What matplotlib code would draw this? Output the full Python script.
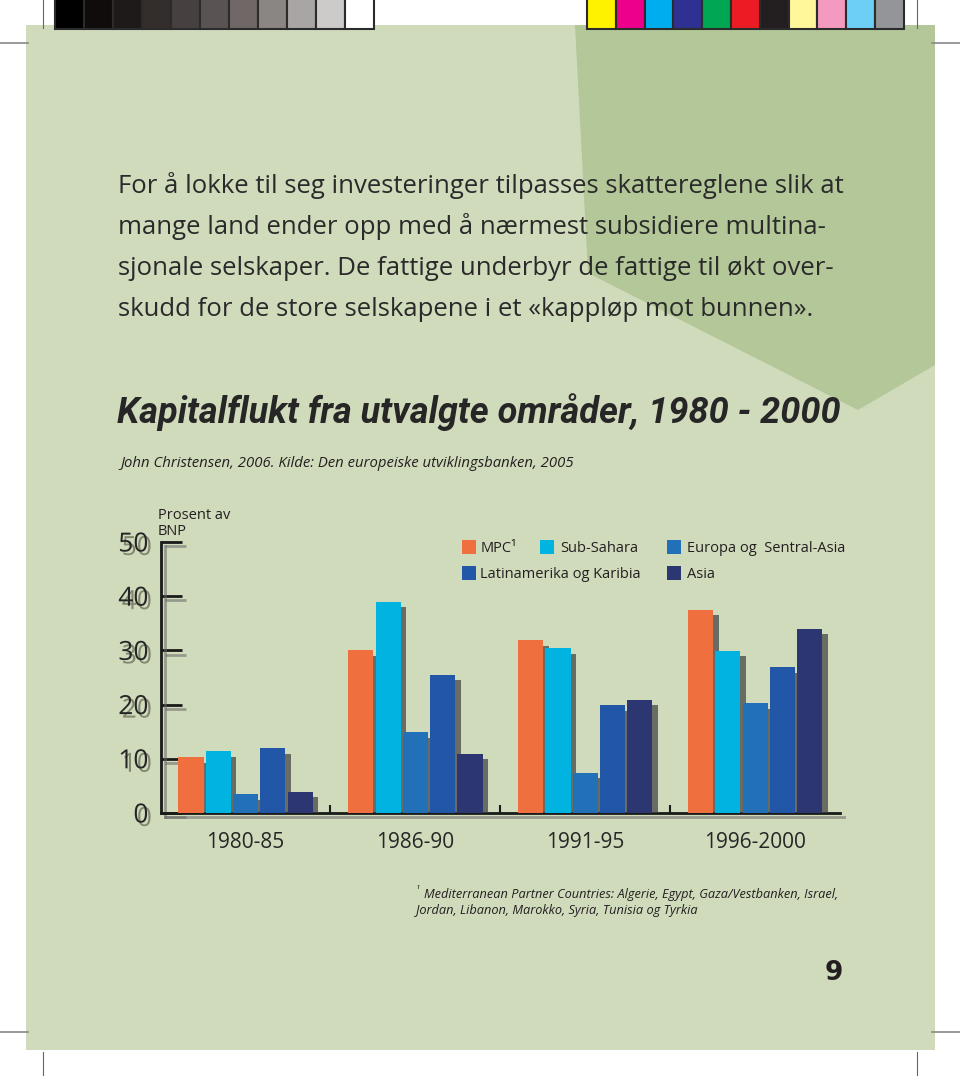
import matplotlib
matplotlib.use("Agg")
import matplotlib.pyplot as plt
import matplotlib.patheffects as pe
from matplotlib.patches import Rectangle, Polygon
import numpy as np

# data
periods = ["1980-85", "1986-90", "1991-95", "1996-2000"]
series = ["MPC¹", "Sub-Sahara", "Europa og  Sentral-Asia", "Latinamerika og Karibia", "Asia"]
mpc = [10.3, 30.0, 31.9, 37.5]
sub_sahara = [11.4, 39.0, 30.4, 29.9]
europa = [3.5, 14.9, 7.4, 20.3]
latin = [12.0, 25.5, 19.9, 26.9]
asia = [3.9, 10.9, 20.9, 34.0]
values = [mpc, sub_sahara, europa, latin, asia]
colors = ["#ef6f3f", "#00b3e0", "#2170b8", "#2157a6", "#2c3670"]
yticks = [0, 10, 20, 30, 40, 50]

body = [
    "For å lokke til seg investeringer tilpasses skattereglene slik at",
    "mange land ender opp med å nærmest subsidiere multina-",
    "sjonale selskaper. De fattige underbyr de fattige til økt over-",
    "skudd for de store selskapene i et «kappløp mot bunnen».",
]
title = "Kapitalflukt fra utvalgte områder, 1980 - 2000"
source = "John Christensen, 2006. Kilde: Den europeiske utviklingsbanken, 2005"
note = ["Mediterranean Partner Countries: Algerie, Egypt, Gaza/Vestbanken, Israel,",
        "Jordan, Libanon, Marokko, Syria, Tunisia og Tyrkia"]

grays = ["#000000", "#100c0b", "#1e1a19", "#332d2c", "#474040", "#5a5353",
         "#6f6867", "#8b8584", "#a9a5a4", "#cdcbca", "#ffffff"]
swatches = ["#fff200", "#ec008c", "#00aeef", "#2e3192", "#00a651", "#ed1c24",
            "#231f20", "#fff799", "#f49ac1", "#6dcff6", "#939598"]

LIGHT = "#d0dbbc"
DARK = "#b3c799"
INK = "#231f20"

fig = plt.figure(figsize=(9.6, 10.76), dpi=100)
fig.patch.set_facecolor("white")

# page background in pixel coordinates
bg = fig.add_axes([0, 0, 1, 1])
bg.set_xlim(0, 960)
bg.set_ylim(1076, 0)
bg.axis("off")
bg.add_patch(Rectangle((26, 25), 909, 1025, facecolor=LIGHT, edgecolor="none"))
bg.add_patch(Polygon([(575, 25), (935, 25), (935, 365), (858, 410), (588, 273)],
                     facecolor=DARK, edgecolor="none"))

# print colour bars
for i, c in enumerate(grays):
    bg.add_patch(Rectangle((55 + i * 29, -3), 29, 32, facecolor=c, edgecolor="#2b2b2b", lw=1.5))
for i, c in enumerate(swatches):
    bg.add_patch(Rectangle((587 + i * 28.8, -3), 28.8, 32, facecolor=c, edgecolor="#2b2b2b", lw=1.5))

# crop marks
for x in (43, 917):
    bg.plot([x, x], [0, 28], color="#666666", lw=0.8)
    bg.plot([x, x], [1052, 1076], color="#666666", lw=0.8)
for y in (43, 1032):
    bg.plot([0, 28], [y, y], color="#888888", lw=1.2)
    bg.plot([932, 960], [y, y], color="#888888", lw=1.2)

# text blocks
for i, line in enumerate(body):
    bg.text(118, 193 + i * 41, line, fontsize=18.5, family="Open Sans", color="#2a2a2a", va="baseline")
bg.text(117, 423, title, fontsize=26, family=["Liberation Sans Narrow", "Roboto"], weight="bold",
        style="italic", color="#262626", va="baseline")
bg.text(120, 467, source, fontsize=10.7, family="Open Sans", style="italic", color=INK, va="baseline")
bg.text(158, 519, "Prosent av", fontsize=10.5, family="Open Sans", color=INK, va="baseline")
bg.text(158, 535, "BNP", fontsize=10.5, family="Open Sans", color=INK, va="baseline")

bg.text(416, 893, "¹", fontsize=7, family="Open Sans", style="italic", color=INK, va="baseline")
for i, line in enumerate(note):
    bg.text(424 if i == 0 else 416, 898 + i * 16, line, fontsize=9.2, family="Open Sans",
            style="italic", color=INK, va="baseline")
bg.text(834, 980, "9", fontsize=19, family="DejaVu Sans", weight="bold", color=INK,
        ha="center", va="baseline")

# legend
leg_pos = [(462, 540, 481), (540, 540, 560), (667, 540, 687), (462, 566, 480), (667, 566, 687)]
for (sx, sy, tx), lab, c in zip(leg_pos, series, colors):
    bg.add_patch(Rectangle((sx, sy), 14, 14, facecolor=c, edgecolor="none"))
    bg.text(tx, sy + 12, lab, fontsize=10.5, family="Open Sans", color=INK, va="baseline")

# chart
ax = fig.add_axes([161 / 960, (1076 - 813) / 1076, (840 - 161) / 960, (813 - 542) / 1076])
ax.patch.set_alpha(0)
G = 6.23
centers = np.arange(len(periods)) * G
shadow = [pe.SimplePatchShadow(offset=(4, -4), shadow_rgbFace="#3d3d3d", alpha=0.7), pe.Normal()]
for s, (vals, c) in enumerate(zip(values, colors)):
    ax.bar(centers + (s - 2), vals, width=0.92, color=c, path_effects=shadow, zorder=3)

ax.set_xlim(-3.1, 21.8)
ax.set_ylim(0, 50)
for side in ("top", "right"):
    ax.spines[side].set_visible(False)
line_shadow = [pe.SimpleLineShadow(offset=(3, -3), shadow_color="#666666", alpha=0.55), pe.Normal()]
for side in ("left", "bottom"):
    ax.spines[side].set_linewidth(2)
    ax.spines[side].set_color("#1a1a1a")
    ax.spines[side].set_path_effects(line_shadow)

ax.set_yticks(yticks)
ax.tick_params(axis="y", direction="in", length=15, width=2, color="#1a1a1a", pad=9,
               labelsize=19, labelcolor="#262626")
for lab in ax.get_yticklabels():
    lab.set_family("Open Sans")
    lab.set_path_effects([pe.withSimplePatchShadow(offset=(2.5, -2.5), shadow_rgbFace="#5f634f", alpha=0.7)])
for t in ax.yaxis.get_major_ticks():
    t.tick1line.set_path_effects(line_shadow)

ax.set_xticks(centers)
ax.set_xticklabels(periods)
ax.set_xticks(centers[:-1] + G / 2, minor=True)
ax.tick_params(axis="x", which="major", length=0, pad=14, labelsize=15, labelcolor="#262626")
ax.tick_params(axis="x", which="minor", direction="in", length=6, width=1.5, color="#1a1a1a")
for lab in ax.get_xticklabels():
    lab.set_family("Open Sans")

fig.savefig("out.png", dpi=100)
